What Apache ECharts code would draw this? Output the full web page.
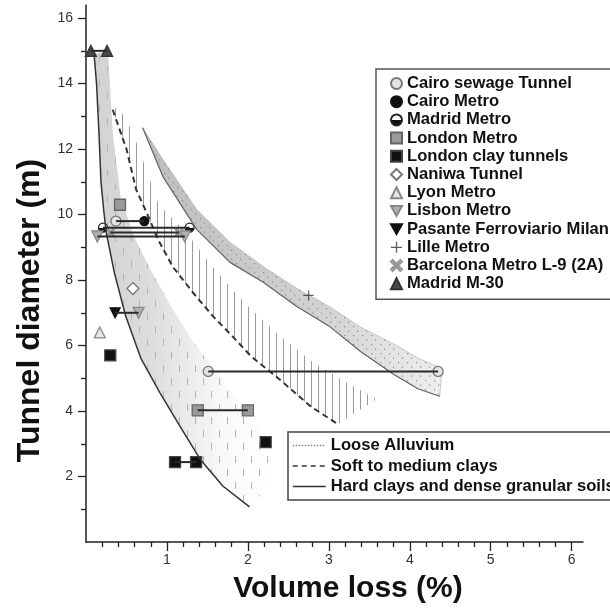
<!DOCTYPE html>
<html lang="en">
<head>
<meta charset="UTF-8" />
<title>Volume loss vs tunnel diameter</title>
<style>
  html, body { margin: 0; padding: 0; background: #fff; }
  #main { width: 610px; height: 609px; }
</style>
</head>
<body>
<div id="main"></div>
<script src="https://cdn.jsdelivr.net/npm/echarts@6.0.0/dist/echarts.min.js"></script>
<script>
const FONT = "'Liberation Sans', Arial, sans-serif";

// axis ticks
const xMajorTicks = [1, 2, 3, 4, 5, 6];
const xMinorTicks = [0.2, 0.4, 0.6, 0.8, 1.2, 1.4, 1.6, 1.8, 2.2, 2.4, 2.6, 2.8,
  3.2, 3.4, 3.6, 3.8, 4.2, 4.4, 4.6, 4.8, 5.2, 5.4, 5.6, 5.8];
const yMajorTicks = [2, 4, 6, 8, 10, 12, 14, 16];
const yMinorTicks = [1, 3, 5, 7, 9, 11, 13, 15];

// envelope curves [volume loss %, diameter m]
const hardLine = [[0.1, 14.9], [0.13, 14], [0.16, 12.5], [0.185, 11], [0.22, 10.1], [0.25, 9.45],
  [0.35, 8.23], [0.49, 6.9], [0.68, 5.6], [0.91, 4.57], [1.16, 3.54], [1.41, 2.53], [1.69, 1.71], [2.02, 1.07]];
const hardEdge = [[2.1, 1.2], [2.28, 2.0], [2.33, 2.6], [2.2, 3.3], [1.95, 4.1], [1.6, 5.2], [1.3, 6.2],
  [1.05, 7.2], [0.8, 8.3], [0.6, 9.3], [0.43, 10.5], [0.33, 12.5], [0.27, 15.0]];
const softLine = [[0.33, 13.2], [0.5, 12.0], [0.62, 10.76], [0.76, 10.0], [0.89, 9.24], [1.07, 8.41],
  [1.32, 7.62], [1.57, 6.89], [1.81, 6.28], [2.04, 5.67], [2.4, 4.95], [2.77, 4.15], [3.11, 3.6]];
const softEdge = [[3.59, 4.36], [3.2, 4.9], [2.8, 5.5], [2.4, 6.28], [2.0, 7.2], [1.74, 7.9], [1.5, 8.6],
  [1.24, 9.45], [0.9, 10.3], [0.58, 12.5], [0.4, 13.3]];
const alluvUpper = [[0.7, 12.65], [0.95, 11.68], [1.37, 10.15], [1.78, 9.15], [2.19, 8.41], [2.6, 7.75],
  [3.0, 7.2], [3.4, 6.55], [3.8, 6.05], [4.1, 5.62], [4.4, 5.3]];
const alluvLower = [[0.7, 12.65], [0.95, 11.16], [1.37, 9.54], [1.78, 8.54], [2.19, 7.93], [2.6, 7.2],
  [3.0, 6.6], [3.4, 5.8], [3.8, 5.12], [4.1, 4.68], [4.37, 4.45]];

// case histories
const cairoSewage = [[1.51, 5.21], [4.35, 5.21], [0.37, 9.8]];
const cairoMetro = [[0.72, 9.8]];
const madridMetro = [[0.21, 9.6], [1.28, 9.6]];
const londonMetro = [[0.42, 10.3], [1.38, 4.02], [2.0, 4.02]];
const londonClay = [[0.3, 5.7], [1.1, 2.44], [1.36, 2.44], [2.22, 3.05]];
const naniwa = [[0.58, 7.74]];
const lyon = [[0.17, 6.4]];
const lisbon = [[0.14, 9.33], [1.22, 9.33], [0.65, 7.0]];
const pasante = [[0.36, 7.0]];
const lille = [[2.75, 7.53]];
const barcelona = [[0.3, 9.45], [1.15, 9.45]];
const madridM30 = [[0.06, 15], [0.26, 15]];

// ranges joining the ends of a case
const ranges = [
  [[0.06, 15], [0.26, 15]],
  [[0.37, 9.8], [0.72, 9.8]],
  [[0.21, 9.6], [1.28, 9.6]],
  [[0.3, 9.45], [1.15, 9.45]],
  [[0.14, 9.33], [1.22, 9.33]],
  [[0.36, 7.0], [0.65, 7.0]],
  [[1.51, 5.21], [4.35, 5.21]],
  [[1.38, 4.02], [2.0, 4.02]],
  [[1.1, 2.44], [1.36, 2.44]]
];

function makePattern(w, h, draw) {
  const c = document.createElement('canvas');
  c.width = w; c.height = h;
  draw(c.getContext('2d'));
  return { image: c, repeat: 'repeat' };
}
const dashPattern = makePattern(16, 26, function (ctx) {
  ctx.strokeStyle = '#b4b4b4'; ctx.lineWidth = 1;
  ctx.beginPath();
  ctx.moveTo(3.5, 1); ctx.lineTo(3.5, 8);
  ctx.moveTo(11.5, 14); ctx.lineTo(11.5, 21);
  ctx.stroke();
});
const hatchPattern = makePattern(7, 4, function (ctx) {
  ctx.strokeStyle = '#999999'; ctx.lineWidth = 1;
  ctx.beginPath(); ctx.moveTo(3.5, 0); ctx.lineTo(3.5, 4); ctx.stroke();
});
const dotPattern = makePattern(9, 9, function (ctx) {
  ctx.fillStyle = '#8a8a8a';
  ctx.fillRect(2, 2, 1.2, 1.2);
  ctx.fillRect(6, 6.5, 1.2, 1.2);
});

function band(outline, styles) {
  return {
    type: 'custom',
    silent: true,
    data: [[0, 0]],
    renderItem: function (params, api) {
      const pts = outline.map(function (p) { return api.coord(p); });
      return {
        type: 'group',
        children: styles.map(function (s) {
          return { type: 'polygon', shape: { points: pts }, style: s };
        })
      };
    }
  };
}

const grad = echarts.graphic.LinearGradient;
const series = [
  band(hardLine.concat(hardEdge), [
    { fill: new grad(0, 0, 1, 0, [
      { offset: 0, color: '#d2d2d2' }, { offset: 0.3, color: '#dcdcdc' },
      { offset: 0.7, color: '#f8f8f8' }, { offset: 1, color: '#ffffff' }]) },
    { fill: dashPattern }
  ]),
  band(softLine.concat(softEdge), [{ fill: hatchPattern }]),
  band(alluvUpper.concat(alluvLower.slice().reverse()), [
    { fill: new grad(0, 0, 1, 0, [
      { offset: 0, color: '#bdbdbd' }, { offset: 0.6, color: '#d2d2d2' }, { offset: 1, color: '#efefef' }]),
      stroke: '#aaaaaa', lineWidth: 0.6 },
    { fill: dotPattern }
  ]),
  {
    name: 'Loose Alluvium', type: 'line', data: alluvLower, symbol: 'none', silent: true,
    itemStyle: { color: '#888' }, lineStyle: { color: '#666', width: 1.2 }
  },
  {
    name: 'Soft to medium clays', type: 'line', data: softLine, symbol: 'none', silent: true,
    itemStyle: { color: '#333' }, lineStyle: { color: '#333', width: 2, type: [6, 4] }
  },
  {
    name: 'Hard clays and dense granular soils', type: 'line', data: hardLine, symbol: 'none', silent: true,
    itemStyle: { color: '#333' }, lineStyle: { color: '#333', width: 1.5 }
  }
];

ranges.forEach(function (r) {
  series.push({ type: 'line', data: r, symbol: 'none', silent: true, lineStyle: { color: '#2a2a2a', width: 2 } });
});

function scatter(name, data, symbol, color, border, size, extra) {
  return Object.assign({
    name: name, type: 'scatter', data: data, symbol: symbol, symbolSize: size,
    itemStyle: { color: color, borderColor: border, borderWidth: 1.3, opacity: 1 }
  }, extra || {});
}
const plus = 'path://M4.4,0H5.6V4.4H10V5.6H5.6V10H4.4V5.6H0V4.4H4.4Z';
const cross = 'path://M1.5,0L5,3.5L8.5,0L10,1.5L6.5,5L10,8.5L8.5,10L5,6.5L1.5,10L0,8.5L3.5,5L0,1.5Z';
const downTriangle = 'path://M0,0L10,0L5,9Z';
const halfFill = new grad(0, 0, 0, 1, [
  { offset: 0, color: '#ffffff' }, { offset: 0.5, color: '#ffffff' },
  { offset: 0.5, color: '#111' }, { offset: 1, color: '#111' }]);

series.push(
  scatter('Cairo sewage Tunnel', cairoSewage, 'circle', '#e4e4e4', '#777', 10),
  scatter('Cairo Metro', cairoMetro, 'circle', '#111', '#111', 9),
  scatter('Madrid Metro', madridMetro, 'circle', halfFill, '#222', 9),
  scatter('London Metro', londonMetro, 'rect', '#9a9a9a', '#666', 11),
  scatter('London clay tunnels', londonClay, 'rect', '#111', '#444', 11),
  scatter('Naniwa Tunnel', naniwa, 'diamond', '#ffffff', '#777', 12),
  scatter('Lyon Metro', lyon, 'triangle', '#e6e6e6', '#888', 11),
  scatter('Lisbon Metro', lisbon, downTriangle, '#b0b0b0', '#888', 11),
  scatter('Pasante Ferroviario Milan', pasante, downTriangle, '#111', '#111', 10),
  scatter('Lille Metro', lille, plus, '#333', '#333', 10, { itemStyle: { color: '#333', borderWidth: 0 } }),
  scatter('Barcelona Metro L-9 (2A)', barcelona, cross, '#999', '#999', 8),
  scatter('Madrid M-30', madridM30, 'triangle', '#4a4a4a', '#333', 11)
);

const markerNames = ['Cairo sewage Tunnel', 'Cairo Metro', 'Madrid Metro', 'London Metro',
  'London clay tunnels', 'Naniwa Tunnel', 'Lyon Metro', 'Lisbon Metro', 'Pasante Ferroviario Milan',
  'Lille Metro', 'Barcelona Metro L-9 (2A)', 'Madrid M-30'];

const axisLine = { lineStyle: { color: '#222', width: 1.5 } };
const labelStyle = { color: '#333', fontSize: 14, fontFamily: FONT };
const titleStyle = { color: '#111', fontSize: 30, fontWeight: 'bold', fontFamily: FONT };
const legendText = { color: '#111', fontSize: 16.6, fontWeight: 'bold', fontFamily: FONT, lineHeight: 16 };
const hiddenSymbol = { opacity: 0 };

const option = {
  animation: false,
  backgroundColor: '#fff',
  grid: { left: 86, right: 27, top: 5, bottom: 66 },
  xAxis: [{
    type: 'value', min: 0, max: 6.14, position: 'bottom',
    axisLine: axisLine, splitLine: { show: false },
    axisTick: { customValues: xMajorTicks, length: 9, lineStyle: { color: '#222', width: 1.3 } },
    axisLabel: Object.assign({ customValues: xMajorTicks, margin: 11 }, labelStyle),
    name: 'Volume loss (%)', nameLocation: 'middle', nameGap: 32,
    nameTextStyle: Object.assign({ padding: [0, 0, 0, 27] }, titleStyle)
  }, {
    type: 'value', min: 0, max: 6.14, position: 'bottom',
    axisLine: { show: false }, splitLine: { show: false }, axisLabel: { show: false },
    axisTick: { customValues: xMinorTicks, length: 5, lineStyle: { color: '#222', width: 1.3 } }
  }],
  yAxis: [{
    type: 'value', min: 0, max: 16.4, position: 'left',
    axisLine: axisLine, splitLine: { show: false },
    axisTick: { customValues: yMajorTicks, length: 8, lineStyle: { color: '#222', width: 1.3 } },
    axisLabel: Object.assign({ customValues: yMajorTicks, margin: 13 }, labelStyle),
    name: 'Tunnel diameter (m)', nameLocation: 'middle', nameRotate: 90, nameGap: 36,
    nameTextStyle: Object.assign({ padding: [0, 74, 0, 0] }, titleStyle, { fontSize: 32 })
  }, {
    type: 'value', min: 0, max: 16.4, position: 'left',
    axisLine: { show: false }, splitLine: { show: false }, axisLabel: { show: false },
    axisTick: { customValues: yMinorTicks, length: 5, lineStyle: { color: '#222', width: 1.3 } }
  }],
  legend: [{
    data: markerNames, orient: 'vertical', left: 376, top: 69,
    padding: [6, 12, 7, 14], itemGap: 1.2, itemWidth: 11, itemHeight: 11,
    borderColor: '#555', borderWidth: 1.5, selectedMode: false, textStyle: legendText
  }, {
    data: [
      { name: 'Loose Alluvium', itemStyle: hiddenSymbol, lineStyle: { type: 'dotted', color: '#888', width: 1.5 } },
      { name: 'Soft to medium clays', itemStyle: hiddenSymbol, lineStyle: { type: [5, 4], color: '#333', width: 1.5 } },
      { name: 'Hard clays and dense granular soils', itemStyle: hiddenSymbol, lineStyle: { type: 'solid', color: '#333', width: 1.5 } }
    ],
    orient: 'vertical', left: 288, top: 432,
    padding: [5, 12, 5, 4], itemGap: 3.5, itemWidth: 33, itemHeight: 14,
    borderColor: '#444', borderWidth: 1.5, selectedMode: false, textStyle: legendText
  }],
  series: series
};

const myChart = echarts.init(document.getElementById('main'));
myChart.setOption(option);
</script>
</body>
</html>
